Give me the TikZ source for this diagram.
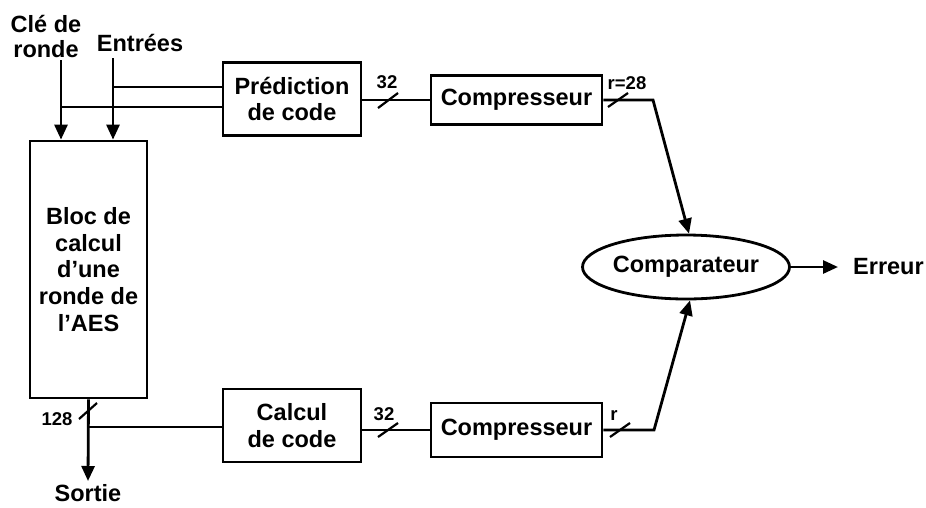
\documentclass[tikz,border=0pt]{standalone}
\usepackage{fontspec}
\setmainfont{Liberation Sans}
\usetikzlibrary{arrows.meta,shapes.geometric}

\tikzset{
  wire/.style={line width=2.8pt},
  arr/.style={wire,-{Triangle[length=15pt,width=13pt]}},
  block/.style={draw,line width=2.8pt,rectangle,inner sep=0pt,align=center,
    font=\fontsize{23.5}{26.7}\selectfont\bfseries},
  lbl/.style={inner sep=0pt,align=center,font=\fontsize{23.5}{25}\selectfont\bfseries},
  small/.style={inner sep=0pt,font=\fontsize{18.5}{20}\selectfont\bfseries},
  busmark/.style={line width=2.2pt},
}

\begin{document}
\begin{tikzpicture}[x=1pt,y=-1pt]
\useasboundingbox (0,0) rectangle (926,507);

% blocks
\node[block,minimum width=117pt,minimum height=257pt] (aes) at (88.5,269.5)
  {Bloc de\\calcul\\d’une\\ronde de\\l’AES};
\node[block,minimum width=138pt,minimum height=73pt] (pred) at (292,99)
  {Prédiction\\de code};
\node[block,minimum width=138pt,minimum height=73pt] (calc) at (292,425.5)
  {Calcul\\de code};
\node[block,minimum width=171pt,minimum height=49pt] (comp1) at (516.5,100)
  {Compresseur};
\node[block,minimum width=171pt,minimum height=54pt] (comp2) at (516.5,430)
  {Compresseur};
\node[block,ellipse,minimum width=207pt,minimum height=64pt] (cmp) at (686,267)
  {Comparateur};

% external labels
\node[lbl] (kin) at (46,36) {Clé de\\ronde};
\node[lbl] (din) at (140,43) {Entrées};
\node[lbl] (out) at (88,493) {Sortie};
\node[lbl,anchor=west] (err) at (853,267) {Erreur};

% wire end points and junctions
\coordinate (kTop) at (61,60);
\coordinate (dTop) at (113,58);
\coordinate (jd) at (113,87);
\coordinate (jk) at (61,107);
\coordinate (jo) at (88,427);
\coordinate (oTip) at (88,481);
\coordinate (b1) at (653,100);
\coordinate (b2) at (654,430);
\coordinate (eTip) at (838,267);

% inputs of the round block
\draw[arr] (kTop) -- (kTop |- aes.north);
\draw[arr] (dTop) -- (dTop |- aes.north);
\draw[wire] (jd) -- (jd -| pred.west);
\draw[wire] (jk) -- (jk -| pred.west);

% output of the round block
\draw[arr] (aes.south) -- (oTip);
\draw[wire] (jo) -- (jo -| calc.west);

% code paths
\draw[wire] (pred.east |- comp1.west) -- (comp1.west);
\draw[wire] (calc.east |- comp2.west) -- (comp2.west);
\draw[arr] (comp1.east) -- (b1) -- ([xshift=3pt]cmp.north);
\draw[arr] (comp2.east) -- (b2) -- ([xshift=4pt]cmp.south);
\draw[arr] (cmp.east) -- (eTip);

% bus width marks
\draw[busmark] (378,108) -- (398,93);
\node[small] (w1) at (387,82) {32};
\draw[busmark] (608,107) -- (628,93);
\node[small] (w2) at (627,83) {r=28};
\draw[busmark] (378,437) -- (398,423);
\node[small] (w3) at (384,414) {32};
\draw[busmark] (610,437) -- (630,423);
\node[small] (w4) at (614,416) {r};
\draw[busmark] (79,419) -- (97,403);
\node[small] (w5) at (57,419) {128};
\end{tikzpicture}
\end{document}
